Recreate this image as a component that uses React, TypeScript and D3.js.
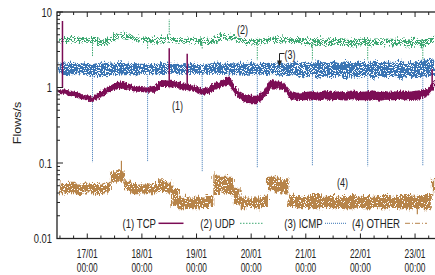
import React from "react";
import * as d3 from "d3";

// hours relative to 17/01 00:00, one sample every 3 h (lo / hi of the noisy band)
const hours = d3.range(-13, 153, 3);

const tcpLo = [0.85, 0.82, 0.78, 0.74, 0.7, 0.66, 0.74, 0.85, 0.95, 1.0, 0.98, 0.92, 0.9, 0.88, 0.88, 1.05, 1.05, 1.02, 0.98, 0.95, 0.9, 0.82, 0.85, 0.98, 1.05, 1.1, 0.8, 0.66, 0.62, 0.62, 0.72, 1.0, 1.0, 0.95, 0.72, 0.7,
  0.7, 0.72, 0.69, 0.72, 0.7, 0.71, 0.69, 0.72, 0.7, 0.7, 0.72, 0.69, 0.71, 0.7, 0.72, 0.7, 0.71, 0.72, 0.78, 1.0];
const tcpHi = [0.98, 0.97, 0.92, 0.88, 0.82, 0.78, 0.92, 1.02, 1.15, 1.25, 1.18, 1.1, 1.05, 1.03, 1.08, 1.3, 1.28, 1.25, 1.18, 1.12, 1.08, 1.0, 1.05, 1.2, 1.3, 1.45, 1.0, 0.85, 0.8, 0.8, 0.92, 1.35, 1.25, 1.2, 0.92, 0.88,
  0.9, 0.92, 0.88, 0.95, 0.9, 0.92, 0.89, 0.94, 0.9, 0.91, 0.95, 0.9, 0.92, 0.9, 0.94, 0.9, 0.93, 0.95, 1.0, 1.3];

const udpLo = [4.1, 4.0, 4.2, 4.1, 4.0, 4.1, 3.7, 3.8, 4.4, 4.7, 4.5, 4.3, 4.1, 4.2, 4.0, 4.1, 4.2, 4.1, 4.0, 4.1, 4.0, 3.9, 3.9, 4.2, 4.6, 4.5, 4.3, 3.9, 3.8, 3.9, 4.0, 4.2, 4.3, 4.2, 4.1, 4.0,
  3.8, 3.7, 3.8, 3.7, 3.8, 3.8, 3.7, 3.6, 3.7, 3.8, 3.7, 3.8, 3.7, 3.7, 3.8, 3.6, 3.7, 3.6, 3.8, 4.3];
const udpHi = [5.0, 4.9, 5.1, 5.0, 4.9, 5.0, 4.6, 4.7, 5.3, 5.6, 5.4, 5.1, 5.0, 5.1, 4.9, 5.0, 5.1, 4.9, 4.8, 4.9, 4.8, 4.7, 4.7, 5.0, 5.5, 5.3, 5.1, 4.7, 4.6, 4.7, 4.8, 5.0, 5.1, 5.0, 4.9, 4.8,
  4.8, 4.7, 4.8, 4.7, 4.8, 4.8, 4.7, 4.6, 4.7, 4.8, 4.7, 4.8, 4.7, 4.7, 4.8, 4.6, 4.7, 4.6, 4.8, 5.2];

const icmpLo = [1.6, 1.55, 1.6, 1.58, 1.55, 1.5, 1.45, 1.5, 1.55, 1.58, 1.6, 1.55, 1.6, 1.62, 1.58, 1.6, 1.62, 1.6, 1.58, 1.6, 1.62, 1.58, 1.6, 1.62, 1.6, 1.58, 1.6, 1.55, 1.58, 1.6, 1.55, 1.6, 1.55, 1.5, 1.55, 1.5,
  1.4, 1.55, 1.35, 1.5, 1.4, 1.55, 1.35, 1.5, 1.4, 1.55, 1.35, 1.5, 1.4, 1.55, 1.35, 1.5, 1.4, 1.45, 1.5, 1.55];
const icmpHi = [2.25, 2.2, 2.3, 2.2, 2.25, 2.2, 2.3, 2.25, 2.2, 2.3, 2.2, 2.25, 2.2, 2.15, 2.2, 2.25, 2.2, 2.2, 2.15, 2.2, 2.2, 2.15, 2.2, 2.3, 2.2, 2.25, 2.2, 2.3, 2.25, 2.2, 2.3, 2.25, 2.3, 2.2, 2.3, 2.25,
  2.35, 2.25, 2.4, 2.3, 2.35, 2.25, 2.4, 2.3, 2.35, 2.25, 2.4, 2.3, 2.35, 2.25, 2.4, 2.3, 2.35, 2.4, 2.45, 2.5];

const otherLo = [0.041, 0.042, 0.041, 0.04, 0.042, 0.041, 0.04, 0.042, 0.058, 0.06, 0.045, 0.041, 0.042, 0.041, 0.042, 0.044, 0.042, 0.028, 0.026, 0.027, 0.026, 0.027, 0.027, 0.04, 0.042, 0.04, 0.03, 0.026, 0.027, 0.026, 0.027, 0.045, 0.043, 0.042, 0.027,
  0.026, 0.027, 0.026, 0.026, 0.027, 0.026, 0.027, 0.026, 0.026, 0.027, 0.026, 0.027, 0.026, 0.026, 0.027, 0.026, 0.026, 0.027, 0.026, 0.026, 0.04];
const otherHi = [0.057, 0.056, 0.058, 0.055, 0.057, 0.056, 0.055, 0.058, 0.08, 0.085, 0.062, 0.056, 0.057, 0.055, 0.056, 0.065, 0.058, 0.048, 0.038, 0.037, 0.038, 0.037, 0.04, 0.075, 0.072, 0.068, 0.05, 0.037, 0.036, 0.037, 0.038, 0.07, 0.068, 0.065, 0.04,
  0.039, 0.038, 0.039, 0.04, 0.038, 0.039, 0.038, 0.039, 0.04, 0.038, 0.039, 0.038, 0.039, 0.04, 0.038, 0.039, 0.04, 0.038, 0.039, 0.04, 0.065];

// nightly drops (hours) and the value each series falls to
const dropHours = [2.3, 26.5, 50.5, 74.7, 98.9, 123.2, 147.4];
const udpDrops = [2.6, 3.2, 3.2, 2.3, 2.3, 2.3, 2.3];
const icmpDrops = [0.102, 0.106, 0.078, 0.088, 0.093, 0.09, 0.093];

// isolated spikes [hour, value]
const tcpSpikes: [number, number][] = [[-10.9, 7.6], [36, 3.3], [43.9, 2.8], [151.5, 1.75]];
const udpSpikes: [number, number][] = [[36, 8.0]];
const otherSpikes: [number, number][] = [[15, 0.107], [145, 0.021]];

const dayLabels = ["17/01", "18/01", "19/01", "20/01", "21/01", "22/01", "23/01"];
const yTicks = [10, 1, 0.1, 0.01];
const yTickLabels = ["10", "1", "0.1", "0.01"];

const colors = { tcp: "#7b0c55", udp: "#3ea872", icmp: "#3a75b4", other: "#b7844a" };
const font = "'Liberation Sans', Arial, sans-serif";

// speckle masks used to give the dotted bands a noisy look
const speckle = {
  udp: ["101101", "010110", "110010", "011011", "100110", "011001"],
  icmp: ["110111", "111101", "101110", "111011", "011111", "101101"],
  other: ["111011", "111111", "110111", "011111", "111101", "111111"],
};

const W = 435, H = 275;
const m = { left: 57, top: 12, right: 436, bottom: 238.5 };
const base = Date.UTC(2014, 0, 17);
const hDate = (h: number) => new Date(base + h * 3600e3);

const x = d3.scaleUtc().domain([hDate(-13.3), hDate(153.2)]).range([m.left, m.right]);
const y = d3.scaleLog().domain([0.01, 10]).range([m.bottom, m.top]);

const Txt = ({ x, y, s, size, sx = 0.72, anchor = "middle" }: any) => (
  <text transform={`translate(${x},${y}) scale(${sx},1)`} fontSize={size} textAnchor={anchor} fontFamily={font} fill="#222">{s}</text>
);

const Pattern = ({ id, rows, color }: any) => (
  <pattern id={id} width={6} height={6} patternUnits="userSpaceOnUse">
    {rows.map((r: string, j: number) =>
      r.split("").map((c, i) => (c === "1" ? <rect key={j + "-" + i} x={i} y={j} width={1} height={1} fill={color} /> : null))
    )}
  </pattern>
);

function Band({ lo, hi, fill, curve = d3.curveLinear, jitter = "jitter" }: any) {
  const area = d3.area<number>()
    .x((_, i) => x(hDate(hours[i])))
    .y0((_, i) => y(lo[i]))
    .y1((_, i) => y(hi[i]))
    .curve(curve);
  return <path d={area(hours) || ""} fill={fill} filter={`url(#${jitter})`} />;
}

export default function App() {
  const minorX = d3.range(-12, 154, 6);
  const majorX = d3.range(0, 150, 24);
  const minorY: number[] = [];
  [0.01, 0.1, 1].forEach((d) => d3.range(2, 10).forEach((k) => minorY.push(d * k)));

  const vline = (h: number, v0: number, v1: number) => {
    const xx = x(hDate(h));
    return `M${xx},${y(v0)}L${xx},${y(v1)}`;
  };

  return (
    <svg width={W} height={H} style={{ position: "absolute", left: 0, top: 0, background: "#fff" }}>
      <defs>
        <Pattern id="pUdp" rows={speckle.udp} color={colors.udp} />
        <Pattern id="pIcmp" rows={speckle.icmp} color={colors.icmp} />
        <Pattern id="pOther" rows={speckle.other} color={colors.other} />
        <filter id="jitter" x="-2%" y="-60%" width="104%" height="220%">
          <feTurbulence type="turbulence" baseFrequency="0.7 0.08" numOctaves={2} seed={3} result="n" />
          <feDisplacementMap in="SourceGraphic" in2="n" scale={7} xChannelSelector="A" yChannelSelector="R" />
        </filter>
        <filter id="jitterSoft" x="-2%" y="-60%" width="104%" height="220%">
          <feTurbulence type="turbulence" baseFrequency="0.7 0.1" numOctaves={2} seed={5} result="n" />
          <feDisplacementMap in="SourceGraphic" in2="n" scale={4} xChannelSelector="A" yChannelSelector="R" />
        </filter>
      </defs>

      {/* series */}
      <Band lo={otherLo} hi={otherHi} fill="url(#pOther)" curve={d3.curveStep} />
      {otherSpikes.map(([h, v], i) => (
        <path key={"os" + i} d={vline(h, v > 0.05 ? 0.06 : 0.03, v)} stroke={colors.other} strokeWidth={1.2} />
      ))}
      {dropHours.map((h, i) => (
        <path key={"id" + i} d={vline(h, 1.5, icmpDrops[i])} stroke={colors.icmp} strokeWidth={1} strokeDasharray="1,1" />
      ))}
      {dropHours.map((h, i) => (
        <path key={"ud" + i} d={vline(h, 4.0, udpDrops[i])} stroke={colors.udp} strokeWidth={1} strokeDasharray="1.5,1" />
      ))}
      <Band lo={icmpLo} hi={icmpHi} fill="url(#pIcmp)" />
      <Band lo={udpLo} hi={udpHi} fill="url(#pUdp)" />
      {udpSpikes.map(([h, v], i) => (
        <path key={"us" + i} d={vline(h, 5, v)} stroke={colors.udp} strokeWidth={1} strokeDasharray="1.5,1" />
      ))}
      <Band lo={tcpLo} hi={tcpHi} fill={colors.tcp} jitter="jitterSoft" />
      {tcpSpikes.map(([h, v], i) => (
        <path key={"ts" + i} d={vline(h, 1.0, v)} stroke={colors.tcp} strokeWidth={1.5} />
      ))}

      {/* frame and ticks */}
      <rect x={m.left} y={m.top} width={m.right - m.left} height={m.bottom - m.top} fill="none" stroke="#222" strokeWidth={1.3} />
      {minorX.map((h) => {
        const xx = x(hDate(h));
        const len = h % 24 === 0 ? 5 : 3;
        return (
          <g key={"xt" + h} stroke="#222" strokeWidth={1}>
            <line x1={xx} x2={xx} y1={m.bottom} y2={m.bottom - len} />
            <line x1={xx} x2={xx} y1={m.top} y2={m.top + len} />
          </g>
        );
      })}
      {minorY.map((v) => (
        <line key={"ym" + v} x1={m.left} x2={m.left + 3} y1={y(v)} y2={y(v)} stroke="#222" />
      ))}
      {yTicks.map((v) => (
        <line key={"yt" + v} x1={m.left} x2={m.left + 6} y1={y(v)} y2={y(v)} stroke="#222" />
      ))}
      {yTicks.map((v, i) => (
        <Txt key={"yl" + v} x={m.left - 5} y={y(v) + 4.5} s={yTickLabels[i]} size={12.5} anchor="end" sx={0.75} />
      ))}
      {majorX.map((h, i) => (
        <g key={"xl" + h}>
          <Txt x={x(hDate(h))} y={258.3} s={dayLabels[i]} size={13.5} sx={0.62} />
          <Txt x={x(hDate(h))} y={271.7} s="00:00" size={13.5} sx={0.62} />
        </g>
      ))}
      <text transform="translate(21,123) rotate(-90) scale(1,0.8)" fontSize={12.5} textAnchor="middle" fontFamily={font} fill="#222">Flows/s</text>

      {/* annotations */}
      <Txt x={242.5} y={34} s="(2)" size={12.5} />
      <Txt x={290} y={59} s="(3)" size={12.5} />
      <Txt x={177.5} y={110} s="(1)" size={12.5} />
      <Txt x={342.5} y={186.5} s="(4)" size={12.5} />
      <path d="M284.5,53.5H279.5V62" fill="none" stroke="#222" strokeWidth={1} />
      <path d="M277,60.5L279.5,66L282,60.5Z" fill="#222" />

      {/* legend */}
      <Txt x={156} y={227.5} s="(1) TCP" size={12} anchor="end" sx={0.8} />
      <line x1={158.5} x2={183.5} y1={223.3} y2={223.3} stroke={colors.tcp} strokeWidth={1.5} />
      <Txt x={235} y={227.5} s="(2) UDP" size={12} anchor="end" sx={0.8} />
      <line x1={240} x2={264} y1={223.3} y2={223.3} stroke={colors.udp} strokeWidth={1} strokeDasharray="1.5,1.5" />
      <Txt x={322.7} y={227.5} s="(3) ICMP" size={12} anchor="end" sx={0.8} />
      <line x1={325} x2={347} y1={223.3} y2={223.3} stroke={colors.icmp} strokeWidth={1} strokeDasharray="1,1" />
      <Txt x={400} y={227.5} s="(4) OTHER" size={12} anchor="end" sx={0.8} />
      <line x1={405} x2={427} y1={223.3} y2={223.3} stroke={colors.other} strokeWidth={1} strokeDasharray="5,2,1,2" />
    </svg>
  );
}
